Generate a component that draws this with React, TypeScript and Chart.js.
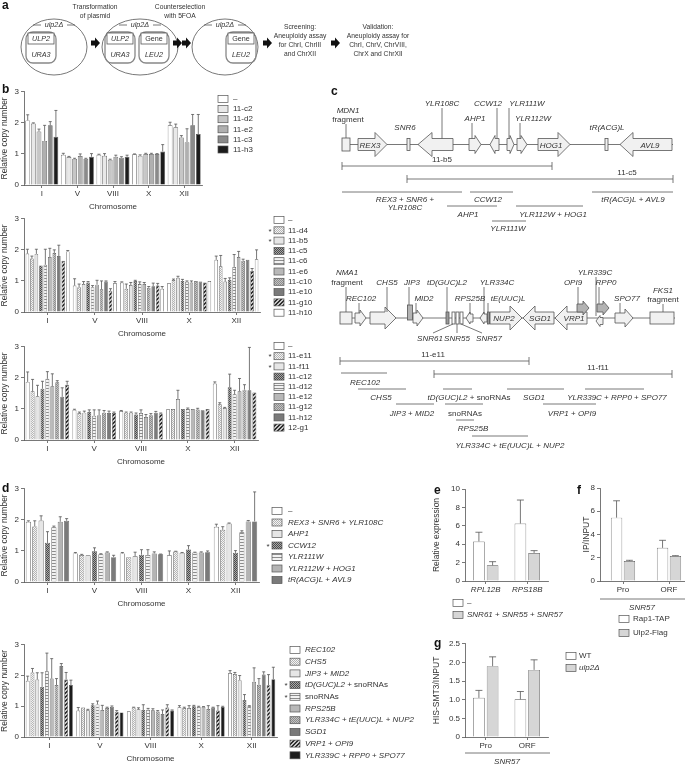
import React, { useEffect, useRef } from "react";
import { Chart, registerables } from "chart.js";
Chart.register(...registerables);

const FONT = "'Liberation Sans', Arial, sans-serif";
const TXT = "#333";
const AX = "#555";

// ---------------- data ----------------
const chromosomes = ["I", "V", "VIII", "X", "XII"];

// panel b, chart 1 (rows = strains, columns = chromosomes)
const b1Series = ["–", "11-c2", "11-d2", "11-e2", "11-c3", "11-h3"];
const b1Means = [
  [2.08, 0.97, 0.97, 0.99, 1.92],
  [1.98, 0.9, 0.94, 0.94, 1.86],
  [1.72, 0.84, 0.81, 1.0, 1.53],
  [1.42, 0.93, 0.91, 1.0, 1.38],
  [1.92, 0.84, 0.88, 1.0, 1.92],
  [1.55, 0.91, 0.91, 1.08, 1.64],
];
const b1Errors = [
  [0.18, 0.05, 0.02, 0.01, 0.1],
  [0.02, 0.02, 0.07, 0.03, 0.1],
  [0.08, 0.02, 0.02, 0.02, 0.06],
  [0.5, 0.07, 0.05, 0.02, 0.43],
  [0.12, 0.02, 0.03, 0.01, 0.35],
  [0.85, 0.1, 0.05, 0.22, 0.63],
];
const b1Fills = ["#ffffff", "#e8e8e8", "#c6c6c6", "#b0b0b0", "#8a8a8a", "#1c1c1c"];

// panel b, chart 2
const b2Series = ["–", "11-d4", "11-b5", "11-c5", "11-c6", "11-e6", "11-c10", "11-e10", "11-g10", "11-h10"];
const b2Means = [
  [1.88, 0.85, 0.95, 0.93, 1.68],
  [1.72, 0.8, 0.75, 1.03, 1.47],
  [1.87, 0.9, 0.87, 1.1, 0.98],
  [1.5, 0.95, 1.0, 1.0, 1.03],
  [1.52, 0.8, 0.9, 0.97, 1.45],
  [1.77, 0.88, 0.9, 0.95, 1.77],
  [1.9, 0.73, 0.78, 1.0, 1.65],
  [1.8, 0.98, 0.83, 0.98, 1.68],
  [1.65, 0.68, 0.85, 0.95, 1.32],
  [1.95, 0.93, 0.75, 1.0, 1.7],
];
const b2Errors = [
  [0.14, 0.22, 0.02, 0, 0.12],
  [0.08, 0.1, 0.15, 0.03, 0.35],
  [0.15, 0.08, 0.08, 0.05, 0.1],
  [0, 0.03, 0.02, 0.05, 0.07],
  [0.5, 0.05, 0.07, 0.03, 0.4],
  [0.28, 0.14, 0.05, 0.05, 0.18],
  [0.1, 0.27, 0.04, 0, 0.05],
  [0.35, 0.02, 0.1, 0, 0],
  [0, 0.07, 0.07, 0, 0.08],
  [0.03, 0.05, 0.07, 0, 0.3],
];
const b2Fills = ["#ffffff", "dots", "#e6e6e6", "checker", "hstripe", "#b8b8b8", "graydots", "#7a7a7a", "diag", "#ffffff"];

// panel b, chart 3
const b3Series = ["–", "11-e11", "11-f11", "11-c12", "11-d12", "11-e12", "11-g12", "11-h12", "12-g1"];
const b3Means = [
  [1.87, 0.97, 0.93, 0.99, 1.82],
  [1.57, 0.87, 0.88, 1.0, 1.15],
  [1.41, 0.88, 0.88, 1.32, 1.03],
  [1.65, 0.9, 0.82, 1.0, 1.7],
  [1.97, 0.78, 0.87, 1.0, 1.47],
  [1.73, 0.8, 0.74, 1.0, 1.57],
  [1.86, 0.88, 0.8, 0.98, 1.62],
  [1.39, 0.87, 0.88, 0.96, 1.6],
  [1.78, 0.87, 0.85, 1.0, 1.53],
];
const b3Errors = [
  [0.32, 0.02, 0.02, 0, 0.05],
  [0.38, 0.03, 0.02, 0, 0.05],
  [0.35, 0.05, 0.02, 0.28, 0.02],
  [0.24, 0.07, 0.05, 0, 0.42],
  [0.23, 0.19, 0.1, 0.03, 0.13],
  [0.4, 0.17, 0.08, 0, 0.41],
  [0.05, 0.07, 0.05, 0.04, 0.16],
  [0.29, 0.06, 0.04, 0, 1.38],
  [0.11, 0.03, 0.02, 0, 0],
];
const b3Fills = ["#ffffff", "dots", "#e6e6e6", "checker", "hstripe", "#b8b8b8", "graydots", "#7a7a7a", "diag"];

// panel d, chart 1
const d1Series = ["–", "REX3 + SNR6 + YLR108C", "AHP1", "CCW12", "YLR111W", "YLR112W + HOG1", "tR(ACG)L + AVL9"];
const d1Means = [
  [1.94, 0.92, 0.92, 0.86, 1.78],
  [1.79, 0.87, 0.8, 0.98, 1.68],
  [1.98, 0.86, 0.83, 0.94, 1.88],
  [1.26, 0.99, 0.88, 1.05, 0.94],
  [1.76, 0.89, 0.87, 0.95, 1.6],
  [1.94, 0.95, 0.92, 0.95, 1.95],
  [1.97, 0.8, 0.89, 0.96, 1.95],
];
const d1Errors = [
  [0.03, 0.03, 0.03, 0.14, 0.08],
  [0.18, 0.02, 0, 0.01, 0.1],
  [0.15, 0, 0.13, 0.01, 0.02],
  [0.36, 0.11, 0.16, 0.12, 0.07],
  [0.04, 0.02, 0.17, 0.01, 0.05],
  [0.16, 0.02, 0.05, 0.02, 0.03],
  [0.07, 0.06, 0.01, 0.04, 0.95],
];
const d1Fills = ["#ffffff", "dots", "#e6e6e6", "checker", "hstripe", "#b4b4b4", "#7a7a7a"];

// panel d, chart 2
const d2Series = [
  "REC102", "CHS5", "JIP3 + MID2", "tD(GUC)L2 + snoRNAs", "snoRNAs", "RPS25B",
  "YLR334C + tE(UUC)L + NUP2", "SGD1", "VRP1 + OPI9", "YLR339C + RPP0 + SPO77",
];
const d2Means = [
  [1.83, 0.86, 0.84, 0.97, 2.08],
  [2.1, 0.96, 0.96, 0.94, 2.05],
  [1.87, 0.87, 0.9, 0.94, 1.85],
  [1.63, 1.03, 0.88, 1.0, 1.2],
  [2.14, 1.06, 0.89, 0.98, 1.0],
  [1.9, 0.88, 0.87, 0.98, 1.8],
  [1.69, 0.94, 0.83, 0.91, 1.7],
  [2.31, 0.98, 0.75, 0.96, 2.03],
  [1.87, 0.82, 0.96, 0.86, 1.68],
  [1.69, 0.8, 0.86, 0.98, 1.88],
];
const d2Errors = [
  [0.15, 0.1, 0, 0.05, 0.08],
  [0.13, 0, 0.01, 0.03, 0.05],
  [0.22, 0.03, 0.05, 0.08, 0.15],
  [0.46, 0.05, 0.17, 0.03, 0.18],
  [0.59, 0.11, 0.04, 0.02, 0.02],
  [0.65, 0.15, 0.05, 0.01, 0.45],
  [0.21, 0.03, 0.03, 0.11, 0.2],
  [0.08, 0.03, 0.13, 0.01, 0.09],
  [0.23, 0.04, 0.09, 0.16, 0.35],
  [0.16, 0, 0.02, 0.02, 0.39],
];
const d2Fills = ["#ffffff", "dots", "#e6e6e6", "checker", "hstripe", "#b8b8b8", "graydots", "#7a7a7a", "diag", "#1c1c1c"];

// panel e
const eGenes = ["RPL12B", "RPS18B"];
const eSeries = ["–", "SNR61 + SNR55 + SNR57"];
const eMeans = [[4.3, 6.25], [1.7, 3.05]];
const eErrors = [[1.0, 2.55], [0.4, 0.25]];

// panel f
const fRegions = ["Pro", "ORF"];
const fSeries = ["Rap1-TAP", "Ulp2-Flag"];
const fMeans = [[5.45, 2.85], [1.72, 2.15]];
const fErrors = [[1.45, 0.65], [0.06, 0.03]];

// panel g
const gRegions = ["Pro", "ORF"];
const gSeries = ["WT", "ulp2Δ"];
const gMeans = [[1.05, 1.01], [1.9, 1.8]];
const gErrors = [[0.2, 0.21], [0.25, 0.27]];

const pairFills = ["#ffffff", "#d6d6d6"];

// ---------------- helpers ----------------
function makePattern(w: number, h: number, draw: (g: CanvasRenderingContext2D) => void) {
  const c = document.createElement("canvas");
  c.width = w;
  c.height = h;
  const g = c.getContext("2d")!;
  draw(g);
  return g.createPattern(c, "repeat");
}

function fillFor(key: string): any {
  if (key.startsWith("#")) return key;
  if (key === "dots")
    return makePattern(2, 2, (g) => {
      g.fillStyle = "#f4f4f4"; g.fillRect(0, 0, 2, 2);
      g.fillStyle = "#b4b4b4"; g.fillRect(0, 0, 1, 1); g.fillRect(1, 1, 1, 1);
    });
  if (key === "checker")
    return makePattern(2, 2, (g) => {
      g.fillStyle = "#a8a8a8"; g.fillRect(0, 0, 2, 2);
      g.fillStyle = "#4a4a4a"; g.fillRect(0, 0, 1, 1); g.fillRect(1, 1, 1, 1);
    });
  if (key === "hstripe")
    return makePattern(1, 3, (g) => {
      g.fillStyle = "#f2f2f2"; g.fillRect(0, 0, 1, 3);
      g.fillStyle = "#8c8c8c"; g.fillRect(0, 0, 1, 1);
    });
  if (key === "graydots")
    return makePattern(2, 2, (g) => {
      g.fillStyle = "#c4c4c4"; g.fillRect(0, 0, 2, 2);
      g.fillStyle = "#8c8c8c"; g.fillRect(0, 0, 1, 1); g.fillRect(1, 1, 1, 1);
    });
  if (key === "diag")
    return makePattern(4, 4, (g) => {
      g.fillStyle = "#c8c8c8"; g.fillRect(0, 0, 4, 4);
      g.fillStyle = "#2e2e2e";
      for (let i = 0; i < 4; i++) { g.fillRect(i, 3 - i, 1, 1); g.fillRect((i + 1) % 4, 3 - i, 1, 1); }
    });
  return "#ffffff";
}

function segments(label: string, italic: boolean) {
  if (!italic) return [{ s: label, it: false }];
  return label
    .split(/(\s*\+\s*)/)
    .filter((s) => s.length > 0)
    .map((s) => ({ s, it: !(/^\s*\+\s*$/.test(s) || s === "snoRNAs" || s === "–" || s === "WT" || s === "fragment" || s === "Gene") }));
}

function drawSegs(ctx: CanvasRenderingContext2D, label: string, x: number, y: number, italic: boolean, size: number, align = "left") {
  const parts = segments(label, italic);
  ctx.fillStyle = TXT;
  ctx.textBaseline = "middle";
  ctx.textAlign = "left";
  let total = 0;
  for (const p of parts) {
    ctx.font = `${p.it ? "italic " : ""}${size}px ${FONT}`;
    total += ctx.measureText(p.s).width;
  }
  let cx = align === "center" ? x - total / 2 : x;
  for (const p of parts) {
    ctx.font = `${p.it ? "italic " : ""}${size}px ${FONT}`;
    ctx.fillText(p.s, cx, y);
    cx += ctx.measureText(p.s).width;
  }
}

type Spec = {
  left: number; top: number; width: number; height: number;
  padTop: number; padRight: number; yAxisW: number; xAxisH: number;
  categories: string[]; series: string[]; means: number[][]; errs: number[][]; fills: string[];
  yMax: number; yStep: number; yTitle: string; xTitle?: string;
  catPct: number; barPct: number; xItalic?: boolean;
  legend: { boxX: number; textX: number; y0: number; dy: number; starX?: number; stars?: number[]; italic: boolean; size?: number };
  group?: { text: string; lineY: number; x2?: number; textX: number; textY: number };
};

function buildConfig(s: Spec) {
  const errorBars = {
    id: "errorBars",
    afterDatasetsDraw(chart: any) {
      const ctx = chart.ctx;
      const ys = chart.scales.y;
      ctx.save();
      ctx.strokeStyle = AX;
      ctx.lineWidth = 0.8;
      chart.data.datasets.forEach((ds: any, di: number) => {
        const meta = chart.getDatasetMeta(di);
        meta.data.forEach((bar: any, i: number) => {
          const e = ds.errors ? ds.errors[i] : 0;
          if (!e) return;
          const yTop = ys.getPixelForValue(ds.data[i] + e);
          const cap = Math.max(1.5, bar.width * 0.3);
          ctx.beginPath();
          ctx.moveTo(bar.x, bar.y);
          ctx.lineTo(bar.x, yTop);
          ctx.moveTo(bar.x - cap, yTop);
          ctx.lineTo(bar.x + cap, yTop);
          ctx.stroke();
        });
      });
      ctx.restore();
    },
  };
  const boxLegend = {
    id: "boxLegend",
    afterDraw(chart: any) {
      const L = s.legend;
      const ctx = chart.ctx;
      ctx.save();
      chart.data.datasets.forEach((ds: any, i: number) => {
        const y = L.y0 + i * L.dy;
        ctx.fillStyle = ds.backgroundColor;
        ctx.fillRect(L.boxX, y - 3.5, 10, 7);
        ctx.strokeStyle = AX;
        ctx.lineWidth = 0.7;
        ctx.strokeRect(L.boxX, y - 3.5, 10, 7);
        drawSegs(ctx, ds.label, L.textX, y, L.italic, L.size || 8);
        if (L.stars && L.stars.includes(i)) {
          ctx.fillStyle = TXT;
          ctx.font = `8px ${FONT}`;
          ctx.textAlign = "center";
          ctx.textBaseline = "middle";
          ctx.fillText("*", L.starX, y + 1);
        }
      });
      ctx.restore();
    },
  };
  const groupLabel = {
    id: "groupLabel",
    afterDraw(chart: any) {
      const g = s.group;
      if (!g) return;
      const ctx = chart.ctx;
      ctx.save();
      ctx.strokeStyle = AX;
      ctx.lineWidth = 0.8;
      ctx.beginPath();
      ctx.moveTo(chart.chartArea.left, g.lineY);
      ctx.lineTo(g.x2 ?? chart.chartArea.right, g.lineY);
      ctx.stroke();
      drawSegs(ctx, g.text, g.textX, g.textY, true, 8, "center");
      ctx.restore();
    },
  };
  return {
    type: "bar",
    data: {
      labels: s.categories,
      datasets: s.series.map((name, i) => ({
        label: name,
        data: s.means[i],
        errors: s.errs[i],
        backgroundColor: fillFor(s.fills[i]),
        borderColor: AX,
        borderWidth: 0.7,
        categoryPercentage: s.catPct,
        barPercentage: s.barPct,
      })),
    },
    options: {
      responsive: false,
      animation: false,
      devicePixelRatio: 1,
      layout: { padding: { top: s.padTop, right: s.padRight, left: 0, bottom: 0 } },
      plugins: { legend: { display: false }, tooltip: { enabled: false } },
      scales: {
        x: {
          offset: true,
          grid: { display: true, drawOnChartArea: false, offset: false, tickLength: 3, color: AX, lineWidth: 0.8 },
          border: { color: AX, width: 0.8 },
          ticks: { color: TXT, font: { size: 8, family: FONT, style: s.xItalic ? "italic" : "normal" }, padding: 1, maxRotation: 0, autoSkip: false },
          title: s.xTitle
            ? { display: true, text: s.xTitle, color: TXT, font: { size: 8, family: FONT }, padding: 0 }
            : { display: false },
          afterFit: (sc: any) => { sc.height = s.xAxisH; },
        },
        y: {
          min: 0,
          max: s.yMax,
          ticks: { stepSize: s.yStep, color: TXT, font: { size: 8, family: FONT }, padding: 2 },
          grid: { drawOnChartArea: false, tickLength: 3, color: AX, lineWidth: 0.8 },
          border: { color: AX, width: 0.8 },
          title: { display: true, text: s.yTitle, color: TXT, font: { size: 8.5, family: FONT }, padding: 0 },
          afterFit: (sc: any) => { sc.width = s.yAxisW; },
        },
      },
    },
    plugins: [errorBars, boxLegend, groupLabel],
  };
}

function BarPanel({ spec }: { spec: Spec }) {
  const ref = useRef<HTMLCanvasElement>(null);
  useEffect(() => {
    const chart = new Chart(ref.current as HTMLCanvasElement, buildConfig(spec) as any);
    return () => chart.destroy();
  }, [spec]);
  return (
    <canvas
      ref={ref}
      width={spec.width}
      height={spec.height}
      style={{ position: "absolute", left: spec.left, top: spec.top, width: spec.width, height: spec.height }}
    />
  );
}

const copyTitle = "Relative copy number";

const specs: Spec[] = [
  {
    left: 0, top: 85, width: 270, height: 127, padTop: 6, padRight: 68, yAxisW: 24, xAxisH: 27,
    categories: chromosomes, series: b1Series, means: b1Means, errs: b1Errors, fills: b1Fills,
    yMax: 3, yStep: 1, yTitle: copyTitle, xTitle: "Chromosome", catPct: 0.95, barPct: 0.85,
    legend: { boxX: 218, textX: 233, y0: 14, dy: 10.1, italic: false },
  },
  {
    left: 0, top: 212, width: 320, height: 127, padTop: 6, padRight: 60, yAxisW: 24, xAxisH: 27,
    categories: chromosomes, series: b2Series, means: b2Means, errs: b2Errors, fills: b2Fills,
    yMax: 3, yStep: 1, yTitle: copyTitle, xTitle: "Chromosome", catPct: 0.95, barPct: 0.8,
    legend: { boxX: 274, textX: 288, y0: 8, dy: 10.3, starX: 270, stars: [1, 2], italic: false },
  },
  {
    left: 0, top: 340, width: 320, height: 127, padTop: 6, padRight: 62, yAxisW: 24, xAxisH: 27,
    categories: chromosomes, series: b3Series, means: b3Means, errs: b3Errors, fills: b3Fills,
    yMax: 3, yStep: 1, yTitle: copyTitle, xTitle: "Chromosome", catPct: 0.95, barPct: 0.8,
    legend: { boxX: 274, textX: 288, y0: 6, dy: 10.2, starX: 270, stars: [1, 2], italic: false },
  },
  {
    left: 0, top: 482, width: 420, height: 127, padTop: 6, padRight: 161, yAxisW: 24, xAxisH: 27,
    categories: chromosomes, series: d1Series, means: d1Means, errs: d1Errors, fills: d1Fills,
    yMax: 3, yStep: 1, yTitle: copyTitle, xTitle: "Chromosome", catPct: 0.95, barPct: 0.8,
    legend: { boxX: 272, textX: 288, y0: 29, dy: 11.5, starX: 268, stars: [3], italic: true },
  },
  {
    left: 0, top: 638, width: 430, height: 126, padTop: 6, padRight: 153, yAxisW: 24, xAxisH: 27,
    categories: chromosomes, series: d2Series, means: d2Means, errs: d2Errors, fills: d2Fills,
    yMax: 3, yStep: 1, yTitle: copyTitle, xTitle: "Chromosome", catPct: 0.95, barPct: 0.8,
    legend: { boxX: 290, textX: 305, y0: 12, dy: 11.7, starX: 286, stars: [3, 4], italic: true },
  },
  {
    left: 432, top: 480, width: 148, height: 140, padTop: 9, padRight: 32, yAxisW: 33, xAxisH: 39,
    categories: eGenes, series: eSeries, means: eMeans, errs: eErrors, fills: pairFills,
    yMax: 10, yStep: 2, yTitle: "Relative expression", catPct: 0.66, barPct: 0.85, xItalic: true,
    legend: { boxX: 21, textX: 35, y0: 123, dy: 12, italic: true },
  },
  {
    left: 582, top: 480, width: 110, height: 160, padTop: 8, padRight: 0, yAxisW: 18, xAxisH: 59,
    categories: fRegions, series: fSeries, means: fMeans, errs: fErrors, fills: pairFills,
    yMax: 8, yStep: 2, yTitle: "IP/INPUT", catPct: 0.56, barPct: 0.88,
    legend: { boxX: 37, textX: 51, y0: 139, dy: 14, italic: false },
    group: { text: "SNR57", lineY: 119, x2: 103, textX: 60, textY: 128 },
  },
  {
    left: 432, top: 637, width: 180, height: 127, padTop: 6, padRight: 64, yAxisW: 33, xAxisH: 27,
    categories: gRegions, series: gSeries, means: gMeans, errs: gErrors, fills: pairFills,
    yMax: 2.5, yStep: 0.5, yTitle: "HIS-SMT3/INPUT", catPct: 0.66, barPct: 0.85,
    legend: { boxX: 134, textX: 147, y0: 19, dy: 12, italic: true },
    group: { text: "SNR57", lineY: 116, x2: 118, textX: 75, textY: 125 },
  },
];

// ---------------- SVG diagram helpers ----------------
const ST = { stroke: AX, strokeWidth: 0.8 };
const GF = "#f1f1f1";
const DG = "#b3b3b3";

function rArrow(x1: number, x2: number, cy: number, bh: number, hh: number, hl: number) {
  const p = [[x1, cy - bh / 2], [x2 - hl, cy - bh / 2], [x2 - hl, cy - hh / 2], [x2, cy], [x2 - hl, cy + hh / 2], [x2 - hl, cy + bh / 2], [x1, cy + bh / 2]];
  return p.map((q) => q.join(",")).join(" ");
}
function lArrow(x1: number, x2: number, cy: number, bh: number, hh: number, hl: number) {
  const p = [[x2, cy - bh / 2], [x1 + hl, cy - bh / 2], [x1 + hl, cy - hh / 2], [x1, cy], [x1 + hl, cy + hh / 2], [x1 + hl, cy + bh / 2], [x2, cy + bh / 2]];
  return p.map((q) => q.join(",")).join(" ");
}

function T({ x, y, t, size = 8, anchor = "middle", italic = true, sx }: any) {
  const parts = segments(t, italic);
  const tr = sx ? `translate(${x},0) scale(${sx},1) translate(${-x},0)` : undefined;
  return (
    <text x={x} y={y} fontSize={size} textAnchor={anchor} fill={TXT} style={{ whiteSpace: "pre" }} transform={tr}>
      {parts.map((p, i) => (
        <tspan key={i} fontStyle={p.it ? "italic" : "normal"}>{p.s}</tspan>
      ))}
    </text>
  );
}

function Line({ x1, y1, x2, y2 }: any) {
  return <line x1={x1} y1={y1} x2={x2} y2={y2} {...ST} />;
}

function Span({ x1, x2, y, label, lx, ly }: any) {
  return (
    <g>
      <Line x1={x1} y1={y} x2={x2} y2={y} />
      <Line x1={x1} y1={y - 4} x2={x1} y2={y + 4} />
      <Line x1={x2} y1={y - 4} x2={x2} y2={y + 4} />
      <T x={lx} y={ly} t={label} italic={false} />
    </g>
  );
}

function Sub({ x1, x2, y, t, tx, ty }: any) {
  return (
    <g>
      <Line x1={x1} y1={y} x2={x2} y2={y} />
      <T x={tx} y={ty} t={t} />
    </g>
  );
}

function Plasmid({ x, a, b }: any) {
  const w = 30;
  const top = 32;
  return (
    <g>
      <rect x={x} y={top} width={w} height={31} rx={7} fill="none" stroke="#888" strokeWidth={1.3} />
      <rect x={x + 2} y={top + 1} width={w - 4} height={11} fill="#fff" stroke={AX} strokeWidth={0.8} />
      <T x={x + w / 2} y={top + 9.5} t={a} sx={0.9} />
      <T x={x + w / 2} y={top + 25} t={b} sx={0.9} />
    </g>
  );
}

function BlockArrow({ x, y }: any) {
  const p = [[x, y - 2.5], [x + 4, y - 2.5], [x + 4, y - 5.5], [x + 9, y], [x + 4, y + 5.5], [x + 4, y + 2.5], [x, y + 2.5]];
  return <polygon points={p.map((q) => q.join(",")).join(" ")} fill="#111" />;
}

function Cell({ cx, rx }: any) {
  return (
    <g>
      <ellipse cx={cx} cy={47} rx={rx} ry={28} fill="none" stroke={AX} strokeWidth={0.8} />
      <Line x1={cx - 21} y1={25} x2={cx - 13} y2={25} />
      <Line x1={cx + 13} y1={25} x2={cx + 21} y2={25} />
      <T x={cx} y={27.5} t="ulp2Δ" sx={0.9} />
    </g>
  );
}

function PanelLetter({ x, y, l }: any) {
  return <text x={x} y={y} fontSize={12} fontWeight="bold" fill="#111" fontFamily="'Liberation Sans', Arial">{l}</text>;
}

function Diagrams() {
  const cy1 = 144.5;
  const cy2 = 318;
  const C = 0.84;
  return (
    <svg width={685} height={764} style={{ position: "absolute", left: 0, top: 0, pointerEvents: "none" }} fontFamily={FONT}>
      {/* panel letters */}
      <PanelLetter x={2} y={9} l="a" />
      <PanelLetter x={2} y={93} l="b" />
      <PanelLetter x={331} y={95} l="c" />
      <PanelLetter x={2} y={492} l="d" />
      <PanelLetter x={434} y={494} l="e" />
      <PanelLetter x={577} y={494} l="f" />
      <PanelLetter x={434} y={647} l="g" />

      {/* panel a */}
      <T x={95} y={9} t="Transformation" italic={false} sx={C} />
      <T x={95} y={18} t="of plasmid" italic={false} sx={C} />
      <T x={180} y={9} t="Counterselection" italic={false} sx={C} />
      <T x={180} y={18} t="with 5FOA" italic={false} sx={C} />
      <Cell cx={54} rx={33} />
      <Cell cx={140} rx={38} />
      <Cell cx={225} rx={33} />
      <Plasmid x={26} a="ULP2" b="URA3" />
      <Plasmid x={105} a="ULP2" b="URA3" />
      <Plasmid x={139} a="Gene" b="LEU2" />
      <Plasmid x={226} a="Gene" b="LEU2" />
      <BlockArrow x={91} y={43} />
      <BlockArrow x={173} y={43} />
      <BlockArrow x={182} y={43} />
      <BlockArrow x={263} y={43} />
      <BlockArrow x={331} y={43} />
      <T x={300} y={29} t="Screening:" italic={false} sx={C} />
      <T x={300} y={38} t="Aneuploidy assay" italic={false} sx={C} />
      <T x={300} y={47} t="for ChrI, ChrIII" italic={false} sx={C} />
      <T x={300} y={56} t="and ChrXII" italic={false} sx={C} />
      <T x={378} y={29} t="Validation:" italic={false} sx={C} />
      <T x={378} y={38} t="Aneuploidy assay for" italic={false} sx={C} />
      <T x={378} y={47} t="ChrI, ChrV, ChrVIII," italic={false} sx={C} />
      <T x={378} y={56} t="ChrX and ChrXII" italic={false} sx={C} />

      {/* panel c, map 1 */}
      <Line x1={342} y1={cy1} x2={673} y2={cy1} />
      <rect x={342} y={138} width={8} height={13} fill={GF} {...ST} />
      <Line x1={346} y1={124} x2={346} y2={138} />
      <T x={348} y={113} t="MDN1" />
      <T x={348} y={122} t="fragment" italic={false} />
      <polygon points={rArrow(358, 387, cy1, 12, 24, 12)} fill={GF} {...ST} />
      <T x={370} y={147.5} t="REX3" />
      <rect x={407} y={138.5} width={3} height={12} fill={GF} {...ST} />
      <T x={405} y={130} t="SNR6" />
      <polygon points={lArrow(418, 453, cy1, 12, 24, 14)} fill={GF} {...ST} />
      <Line x1={442} y1={108} x2={442} y2={138.5} />
      <T x={442} y={106} t="YLR108C" />
      <polygon points={rArrow(469, 481, cy1, 12, 18, 6)} fill={GF} {...ST} />
      <Line x1={472} y1={123} x2={472} y2={138.5} />
      <T x={475} y={121} t="AHP1" />
      <polygon points={lArrow(490, 499, cy1, 12, 18, 5)} fill={GF} {...ST} />
      <Line x1={497} y1={108} x2={497} y2={138.5} />
      <T x={488} y={106} t="CCW12" />
      <polygon points={rArrow(507, 514, cy1, 12, 18, 4)} fill={GF} {...ST} />
      <Line x1={509} y1={108} x2={509} y2={138.5} />
      <T x={527} y={106} t="YLR111W" />
      <polygon points={rArrow(517, 527, cy1, 12, 18, 6)} fill={GF} {...ST} />
      <Line x1={520} y1={123} x2={520} y2={138.5} />
      <T x={533} y={121} t="YLR112W" />
      <polygon points={rArrow(538, 570, cy1, 12, 24, 12)} fill={GF} {...ST} />
      <T x={551} y={147.5} t="HOG1" />
      <rect x={605} y={138.5} width={3} height={12} fill={GF} {...ST} />
      <T x={607} y={130} t="tR(ACG)L" />
      <polygon points={lArrow(620, 672, cy1, 12, 24, 13)} fill={GF} {...ST} />
      <T x={650} y={147.5} t="AVL9" />

      <Span x1={342} x2={552} y={166} label="11-b5" lx={442} ly={162} />
      <Span x1={407} x2={673} y={179} label="11-c5" lx={627} ly={175} />
      <Sub x1={342} x2={462} y={192} t="REX3 + SNR6 +" tx={405} ty={202} />
      <T x={405} y={210} t="YLR108C" />
      <Sub x1={470} x2={513} y={192} t="CCW12" tx={488} ty={202} />
      <Sub x1={447} x2={497} y={206} t="AHP1" tx={468} ty={217} />
      <Sub x1={516} x2={583} y={206} t="YLR112W + HOG1" tx={553} ty={217} />
      <Sub x1={492} x2={526} y={221} t="YLR111W" tx={508} ty={231} />
      <Sub x1={592} x2={673} y={192} t="tR(ACG)L + AVL9" tx={633} ty={202} />

      {/* panel c, map 2 */}
      <Line x1={340} y1={cy2} x2={675} y2={cy2} />
      <rect x={340} y={312} width={12} height={12} fill={GF} {...ST} />
      <Line x1={346} y1={287} x2={346} y2={312} />
      <T x={347} y={275} t="NMA1" />
      <T x={347} y={285} t="fragment" italic={false} />
      <polygon points={rArrow(355, 366, cy2, 10, 16, 6)} fill={GF} {...ST} />
      <Line x1={359} y1={303} x2={359} y2={313} />
      <T x={361} y={301} t="REC102" />
      <polygon points={rArrow(370, 396, cy2, 12, 22, 11)} fill={GF} {...ST} />
      <Line x1={387} y1={287} x2={387} y2={312} />
      <T x={387} y={285} t="CHS5" />
      <rect x={407.5} y={305} width={5} height={15} fill={DG} {...ST} />
      <Line x1={409} y1={287} x2={409} y2={305} />
      <T x={412} y={285} t="JIP3" />
      <polygon points={rArrow(413, 423, cy2, 10, 16, 6)} fill={GF} {...ST} />
      <Line x1={416} y1={303} x2={416} y2={313} />
      <T x={424} y={301} t="MID2" />
      <rect x={446} y={312} width={3} height={12} fill="#999" {...ST} />
      <Line x1={447} y1={287} x2={447} y2={312} />
      <T x={447} y={285} t="tD(GUC)L2" />
      <rect x={452} y={312} width={3} height={12} fill="#fff" {...ST} />
      <rect x={456} y={312} width={3} height={12} fill="#fff" {...ST} />
      <rect x={460} y={312} width={3} height={12} fill="#fff" {...ST} />
      <polygon points={lArrow(466, 473, cy2, 8, 12, 4)} fill={GF} {...ST} />
      <Line x1={470} y1={303} x2={470} y2={314} />
      <T x={470} y={301} t="RPS25B" />
      <polygon points={lArrow(480, 487, cy2, 8, 12, 4)} fill={GF} {...ST} />
      <Line x1={484} y1={287} x2={484} y2={314} />
      <T x={497} y={285} t="YLR334C" />
      <rect x={487.5} y={312} width={2} height={12} fill="#999" {...ST} />
      <Line x1={488} y1={303} x2={488} y2={312} />
      <T x={508} y={301} t="tE(UUC)L" />
      <polygon points={rArrow(490, 522, cy2, 12, 24, 12)} fill={GF} {...ST} />
      <T x={504} y={321} t="NUP2" />
      <polygon points={lArrow(523, 554, cy2, 12, 24, 12)} fill={GF} {...ST} />
      <T x={540} y={321} t="SGD1" />
      <polygon points={lArrow(555, 587, cy2, 12, 24, 12)} fill={GF} {...ST} />
      <T x={574} y={321} t="VRP1" />
      <polygon points={rArrow(577, 589, 308, 8, 14, 6)} fill={DG} {...ST} />
      <Line x1={578} y1={287} x2={578} y2={304} />
      <T x={573} y={285} t="OPI9" />
      <Line x1={596} y1={277} x2={596} y2={316} />
      <T x={595} y={275} t="YLR339C" />
      <polygon points={rArrow(597, 609, 308, 8, 14, 6)} fill={DG} {...ST} />
      <Line x1={599} y1={287} x2={599} y2={304} />
      <T x={606} y={285} t="RPP0" />
      <polygon points={lArrow(596, 603, 321, 7, 11, 4)} fill={GF} {...ST} />
      <polygon points={rArrow(615, 633, cy2, 10, 18, 8)} fill={GF} {...ST} />
      <Line x1={620} y1={303} x2={620} y2={313} />
      <T x={627} y={301} t="SPO77" />
      <rect x={650} y={312} width={24} height={12} fill={GF} {...ST} />
      <Line x1={663} y1={304} x2={663} y2={312} />
      <T x={663} y={293} t="FKS1" />
      <T x={663} y={302} t="fragment" italic={false} />
      <Line x1={433} y1={333} x2={453} y2={324} />
      <Line x1={457} y1={333} x2={457} y2={324} />
      <Line x1={482} y1={333} x2={461} y2={324} />
      <T x={430} y={341} t="SNR61" />
      <T x={457} y={341} t="SNR55" />
      <T x={489} y={341} t="SNR57" />

      <Span x1={340} x2={529} y={361} label="11-e11" lx={433} ly={357} />
      <Span x1={434} x2={672} y={374} label="11-f11" lx={598} ly={370} />
      <Sub x1={341} x2={387} y={373} t="REC102" tx={365} ty={385} />
      <Sub x1={358} x2={406} y={389} t="CHS5" tx={381} ty={400} />
      <Sub x1={396} x2={434} y={404} t="JIP3 + MID2" tx={412} ty={416} />
      <Sub x1={443} x2={472} y={389} t="tD(GUC)L2 + snoRNAs" tx={469} ty={400} />
      <Sub x1={445} x2={483} y={404} t="snoRNAs" tx={465} ty={416} />
      <Sub x1={456} x2={474} y={420} t="RPS25B" tx={473} ty={431} />
      <Sub x1={472} x2={528} y={436} t="YLR334C + tE(UUC)L + NUP2" tx={510} ty={448} />
      <Sub x1={507} x2={564} y={389} t="SGD1" tx={534} ty={400} />
      <Sub x1={543} x2={596} y={404} t="VRP1 + OPI9" tx={572} ty={416} />
      <Sub x1={585} x2={644} y={389} t="YLR339C + RPP0 + SPO77" tx={617} ty={400} />
    </svg>
  );
}

export default function App() {
  return (
    <div style={{ position: "absolute", left: 0, top: 0, width: 685, height: 764, background: "#fff", overflow: "hidden", fontFamily: FONT }}>
      {specs.map((s, i) => (
        <BarPanel key={i} spec={s} />
      ))}
      <Diagrams />
    </div>
  );
}
